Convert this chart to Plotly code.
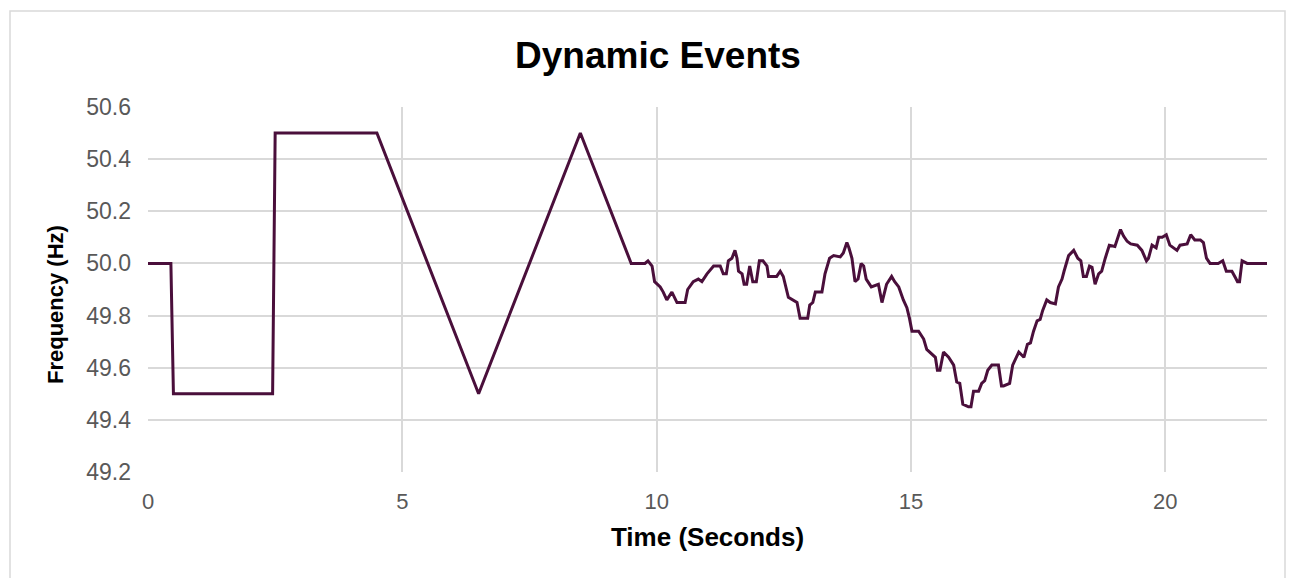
import plotly.graph_objects as go

time_s = [0, 0.45, 0.5, 2.45, 2.5, 4.5, 6.5, 8.5, 9.5, 9.77, 9.83, 9.91, 9.96, 10.07, 10.13, 10.20,
          10.30, 10.40, 10.56, 10.61, 10.72, 10.82, 10.89, 10.99, 11.12, 11.25, 11.31, 11.37, 11.41,
          11.48, 11.54, 11.58, 11.61, 11.68, 11.72, 11.77, 11.83, 11.89, 11.96, 12.02, 12.09, 12.17,
          12.20, 12.36, 12.43, 12.49, 12.59, 12.69, 12.76, 12.82, 12.97, 13.01, 13.07, 13.12, 13.25,
          13.31, 13.40, 13.48, 13.61, 13.67, 13.74, 13.78, 13.84, 13.90, 13.96, 14.02, 14.07, 14.12,
          14.19, 14.22, 14.36, 14.43, 14.52, 14.62, 14.68, 14.76, 14.85, 14.92, 14.97, 15.02, 15.15,
          15.25, 15.31, 15.41, 15.48, 15.52, 15.57, 15.64, 15.74, 15.84, 15.90, 15.96, 16.02, 16.13,
          16.18, 16.23, 16.33, 16.39, 16.45, 16.51, 16.59, 16.72, 16.78, 16.82, 16.94, 17.00, 17.12,
          17.22, 17.29, 17.35, 17.41, 17.48, 17.54, 17.59, 17.67, 17.74, 17.84, 17.90, 17.97, 18.01,
          18.10, 18.20, 18.28, 18.34, 18.39, 18.45, 18.51, 18.56, 18.62, 18.69, 18.75, 18.82, 18.90,
          19.01, 19.12, 19.18, 19.25, 19.32, 19.45, 19.54, 19.63, 19.67, 19.74, 19.82, 19.87, 19.94,
          20.02, 20.09, 20.16, 20.23, 20.29, 20.43, 20.50, 20.58, 20.69, 20.75, 20.81, 20.88, 21.04,
          21.13, 21.20, 21.31, 21.38, 21.42, 21.46, 21.51, 21.61, 22.0]

freq_hz = [50.0, 50.0, 49.5, 49.5, 50.5, 50.5, 49.5, 50.5, 50.0, 50.0, 50.01, 49.99, 49.93, 49.91, 49.89, 49.86,
           49.89, 49.85, 49.85, 49.90, 49.93, 49.94, 49.93, 49.96, 49.99, 49.99, 49.96, 49.96, 50.01,
           50.02, 50.05, 50.02, 49.97, 49.96, 49.92, 49.92, 49.99, 49.93, 49.93, 50.01, 50.01, 49.99,
           49.95, 49.95, 49.97, 49.95, 49.87, 49.86, 49.85, 49.79, 49.79, 49.84, 49.85, 49.89, 49.89,
           49.96, 50.02, 50.03, 50.025, 50.04, 50.08, 50.06, 50.02, 49.93, 49.94, 50.0, 49.99, 49.94,
           49.92, 49.91, 49.92, 49.85, 49.92, 49.95, 49.93, 49.91, 49.86, 49.83, 49.79, 49.74, 49.74,
           49.71, 49.67, 49.65, 49.64, 49.59, 49.59, 49.66, 49.64, 49.61, 49.545, 49.54, 49.46, 49.45,
           49.45, 49.51, 49.51, 49.54, 49.55, 49.59, 49.61, 49.61, 49.53, 49.53, 49.54, 49.61, 49.66,
           49.64, 49.69, 49.695, 49.74, 49.78, 49.785, 49.82, 49.86, 49.85, 49.845, 49.91, 49.94, 49.97,
           50.03, 50.05, 50.02, 50.01, 49.95, 49.95, 49.99, 49.985, 49.92, 49.96, 49.97, 50.02, 50.07,
           50.065, 50.13, 50.105, 50.085, 50.075, 50.07, 50.05, 50.01, 50.02, 50.07, 50.06, 50.10, 50.10,
           50.11, 50.07, 50.06, 50.05, 50.07, 50.075, 50.11, 50.09, 50.09, 50.08, 50.02, 50.0, 50.0,
           50.01, 49.97, 49.97, 49.945, 49.93, 49.93, 50.01, 50.0, 50.0]

x_ticks = [0, 5, 10, 15, 20]
y_ticks = [49.2, 49.4, 49.6, 49.8, 50.0, 50.2, 50.4, 50.6]

FONT = "Liberation Sans, Arial, sans-serif"
GRID = "#d9d9d9"

# plot area in page pixels (page body has an 8px offset)
PX0, PX1, PY0, PY1 = 148, 1267, 107, 472
W, H = 1288, 570
PW, PH = PX1 - PX0, PY1 - PY0

fig = go.Figure()
fig.add_trace(go.Scatter(x=time_s, y=freq_hz, mode="lines",
                         line=dict(color="#4a0f3b", width=3), showlegend=False))

fig.update_layout(
    width=W, height=H,
    margin=dict(l=PX0 - 8, r=W - (PX1 - 8), t=PY0 - 8, b=H - (PY1 - 8)),
    paper_bgcolor="white", plot_bgcolor="white",
    title=dict(text="<b>Dynamic Events</b>", x=(658 - 8) / W, xanchor="center",
               y=1 - (55 - 8) / H, yanchor="middle",
               font=dict(family=FONT, size=37, color="#000000")),
    font=dict(family=FONT),
    xaxis=dict(range=[0, 22], tickvals=x_ticks, ticktext=[str(v) for v in x_ticks],
               showgrid=True, gridcolor=GRID, gridwidth=1.8, zeroline=False,
               showline=False, ticks="", ticklabelstandoff=14,
               tickfont=dict(family=FONT, size=22, color="#595959"),
               title=dict(text="<b>Time (Seconds)</b>", standoff=14,
                          font=dict(family=FONT, size=26, color="#000000"))),
    yaxis=dict(range=[49.2, 50.6], tickvals=y_ticks, ticktext=[f"{v:.1f}" for v in y_ticks],
               showgrid=True, gridcolor=GRID, gridwidth=1.8, zeroline=False,
               showline=False, ticks="", ticklabelstandoff=16,
               tickfont=dict(family=FONT, size=23, color="#595959")),
    annotations=[dict(text="<b>Frequency (Hz)</b>", textangle=-90, showarrow=False,
                      xref="paper", yref="paper", x=(55 - PX0) / PW, y=(PY1 - 305) / PH,
                      xanchor="center", yanchor="middle",
                      font=dict(family=FONT, size=22, color="#000000"))],
    shapes=[dict(type="rect", xref="paper", yref="paper",
                 x0=(10 - PX0) / PW, x1=(1285 - PX0) / PW,
                 y0=(PY1 - 600) / PH, y1=(PY1 - 11) / PH,
                 line=dict(color="#d9d9d9", width=1.5), fillcolor="rgba(0,0,0,0)", layer="below")],
)

fig.write_html("out.html")
